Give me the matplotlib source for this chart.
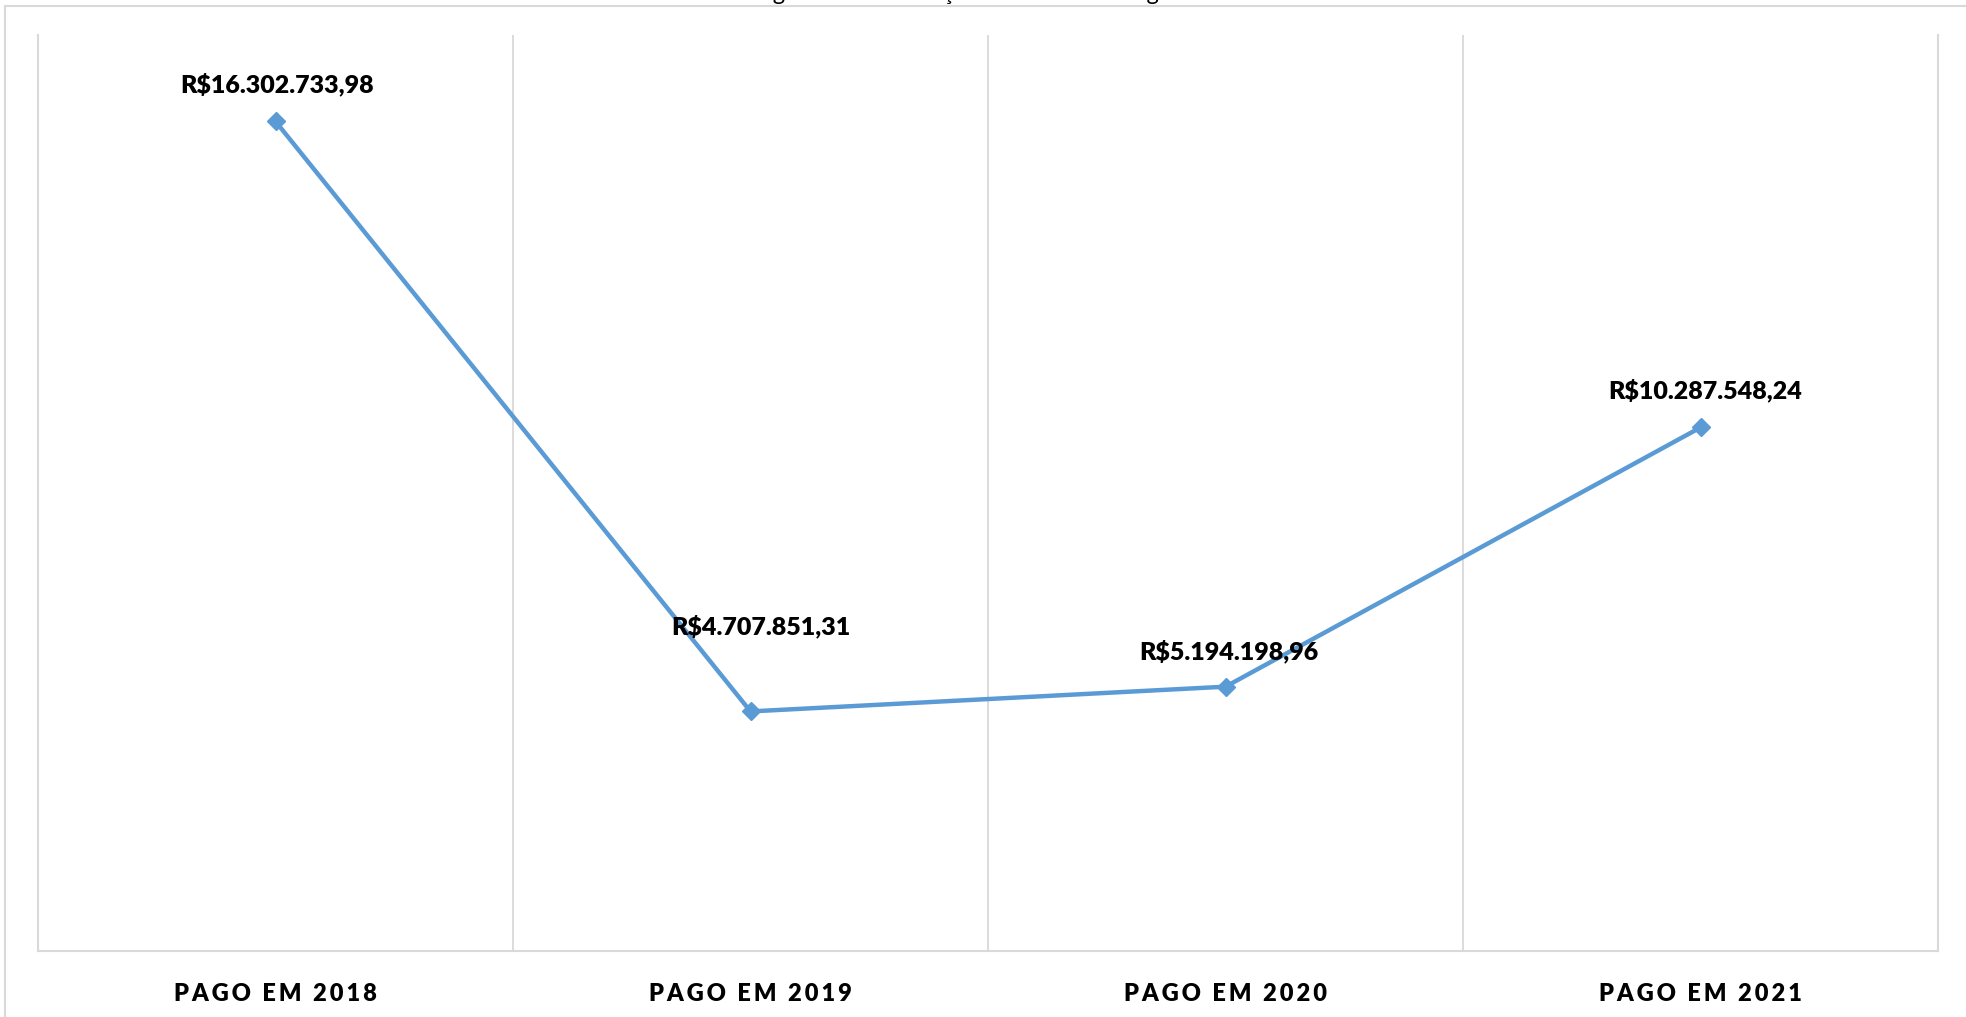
import matplotlib
matplotlib.use('Agg')
import matplotlib.pyplot as plt
from matplotlib.lines import Line2D

plt.rcParams['font.family'] = ['Lato', 'DejaVu Sans']

categorias = ['PAGO EM 2018', 'PAGO EM 2019', 'PAGO EM 2020', 'PAGO EM 2021']
valores = [16302733.98, 4707851.31, 5194198.96, 10287548.24]
rotulos = ['R$16.302.733,98', 'R$4.707.851,31', 'R$5.194.198,96', 'R$10.287.548,24']
# deslocamento dos rotulos em pixels (x, y)
desloc = [(2, 37), (10, 85), (3, 35), (5, 37)]

azul = '#5B9BD5'
cinza = '#D9D9D9'

fig = plt.figure(figsize=(19.66, 10.17), dpi=100)
ax = fig.add_axes([38/1966, 66/1017, 1900/1966, 916/1017])

x = range(len(valores))
ax.plot(x, valores, color=azul, lw=3.2, marker='D', markersize=9,
        markeredgecolor=azul, markerfacecolor=azul, solid_joinstyle='round')

for i, (v, r) in enumerate(zip(valores, rotulos)):
    ax.annotate(r, (i, v), xytext=desloc[i], textcoords='offset pixels',
                ha='center', va='center', fontsize=18, fontweight='heavy', color='black')

ax.set_xlim(-0.5, len(valores) - 0.5)
ax.set_ylim(0, 18000000)
ax.set_yticks([])
ax.set_xticks(list(x))
ax.set_xticklabels(['\u2009'.join(c) for c in categorias], fontsize=17,
                   fontweight='heavy', color='black')
ax.tick_params(axis='x', length=0, pad=23)
ax.set_xticks([0.5, 1.5, 2.5], minor=True)
ax.tick_params(axis='x', which='minor', length=0)
ax.grid(axis='x', which='minor', color=cinza, lw=1.3)

for s in ['left', 'right', 'bottom']:
    ax.spines[s].set_color(cinza)
    ax.spines[s].set_linewidth(1.5)
ax.spines['top'].set_visible(False)

# moldura externa do grafico
fig.add_artist(Line2D([5/1966, 1], [1 - 6/1017, 1 - 6/1017], color=cinza, lw=1.5))
fig.add_artist(Line2D([5/1966, 5/1966], [0, 1 - 6/1017], color=cinza, lw=1.5))

fig.text(0.49, 1.0, 'Pagamento - Evolução dos Restos a Pagar', ha='center',
         va='baseline', fontsize=17, color='black')

fig.savefig('out.png', dpi=100)
